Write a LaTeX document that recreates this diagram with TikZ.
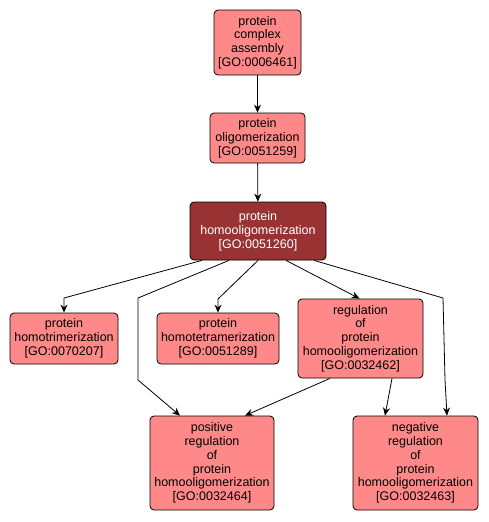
\documentclass[tikz,border=0pt]{standalone}
\usepackage{fontspec}
\setmainfont{Liberation Sans}
\usetikzlibrary{arrows.meta}
\definecolor{gofill}{RGB}{255,137,137}
\definecolor{gosel}{RGB}{153,51,51}
\begin{document}
\begin{tikzpicture}[x=1pt,y=-1pt,
  gobox/.style={draw=black,line width=0.8pt,rounded corners=4pt,fill=gofill,align=center,inner sep=0pt,font=\fontsize{12.5}{13.8}\selectfont},
  selbox/.style={gobox,fill=gosel,text=white},
  arr/.style={draw=black,line width=0.8pt,-{Stealth[length=8pt,width=7pt]}}]
\useasboundingbox (0,0) rectangle (489,522);
\node[gobox,minimum width=87pt,minimum height=65pt] (A) at (257.5,42.5) {protein\\complex\\assembly\\{}[GO:0006461]};
\node[gobox,minimum width=95pt,minimum height=50pt] (B) at (257.5,138) {protein\\oligomerization\\{}[GO:0051259]};
\node[selbox,minimum width=136pt,minimum height=58pt] (C) at (258,231) {protein\\homooligomerization\\{}[GO:0051260]};
\node[gobox,minimum width=108pt,minimum height=51pt] (D) at (64,338.5) {protein\\homotrimerization\\{}[GO:0070207]};
\node[gobox,minimum width=122pt,minimum height=51pt] (E) at (218,338.5) {protein\\homotetramerization\\{}[GO:0051289]};
\node[gobox,minimum width=125pt,minimum height=79pt] (F) at (360.5,338.5) {regulation\\of\\protein\\homooligomerization\\{}[GO:0032462]};
\node[gobox,minimum width=124pt,minimum height=94pt] (G) at (212,463) {positive\\regulation\\of\\protein\\homooligomerization\\{}[GO:0032464]};
\node[gobox,minimum width=125pt,minimum height=94pt] (H) at (415.5,463) {negative\\regulation\\of\\protein\\homooligomerization\\{}[GO:0032463]};
\draw[arr] (A) -- (B);
\draw[arr] (B) -- (C);
\draw[arr] ([xshift=-56pt]C.south) -- (D.north |- 0,298) -- (D.north);
\draw[arr] (C.south) -- (E.north |- 0,299) -- (E.north);
\draw[arr] ([xshift=28pt]C.south) -- ([xshift=-1pt]F.north);
\draw[arr] ([xshift=-29pt]C.south) -- (138,298) -- (138,380) -- ([xshift=-32pt]G.north);
\draw[arr] ([xshift=56pt]C.south) -- (443,298) -- (445,380) -- ([xshift=31.5pt]H.north);
\draw[arr] ([xshift=-30.5pt]F.south) -- ([xshift=33pt]G.north);
\draw[arr] ([xshift=31.5pt]F.south) -- ([xshift=-30.5pt]H.north);
\end{tikzpicture}
\end{document}
